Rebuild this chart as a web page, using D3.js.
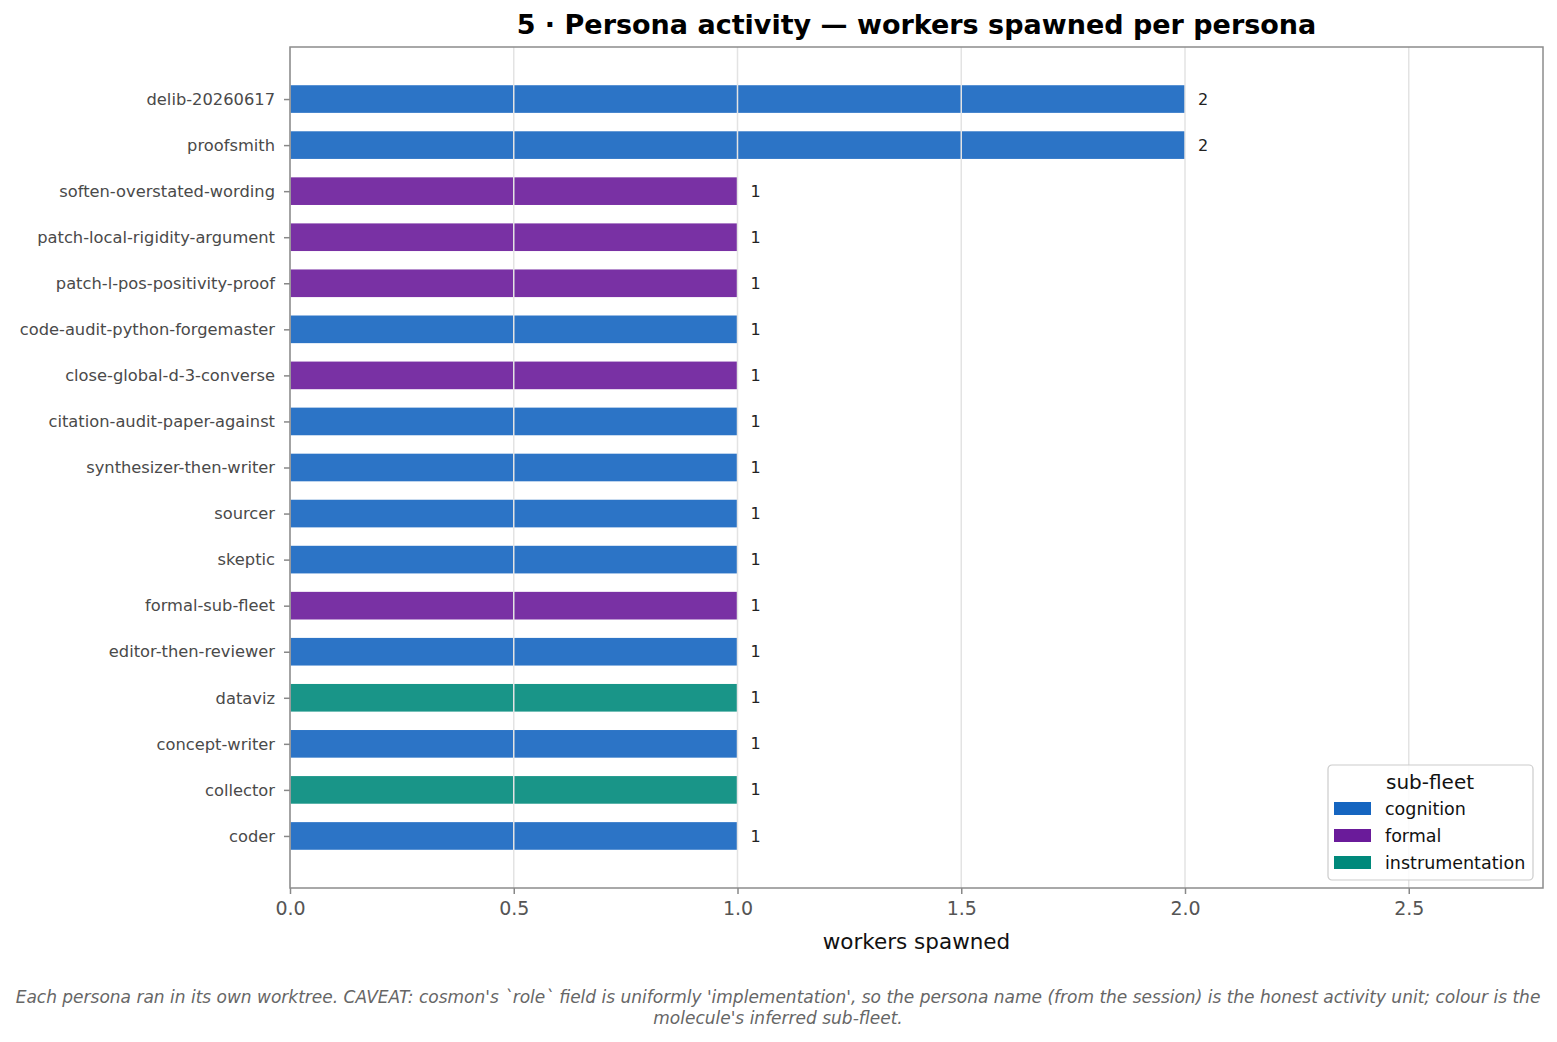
<!DOCTYPE html>
<html><head><meta charset="utf-8">
<script src="https://cdn.jsdelivr.net/npm/d3@7"></script>
<style>body{margin:0;background:#fff;font-family:"DejaVu Sans",sans-serif;}</style>
</head><body><svg id="c" width="1557" height="1042"></svg>
<script>
const personas = ["delib-20260617","proofsmith","soften-overstated-wording","patch-local-rigidity-argument","patch-l-pos-positivity-proof","code-audit-python-forgemaster","close-global-d-3-converse","citation-audit-paper-against","synthesizer-then-writer","sourcer","skeptic","formal-sub-fleet","editor-then-reviewer","dataviz","concept-writer","collector","coder"];
const workers = [2,2,1,1,1,1,1,1,1,1,1,1,1,1,1,1,1];
const subfleet = ["cognition","cognition","formal","formal","formal","cognition","formal","cognition","cognition","cognition","cognition","formal","cognition","instrumentation","cognition","instrumentation","cognition"];
const fleets = ["cognition","formal","instrumentation"];
const fleetColors = ["#1565c0","#6a1b9a","#00897b"];
const xTicks = [0,0.5,1.0,1.5,2.0,2.5];

const svg = d3.select("#c").attr("font-family","DejaVu Sans");
const L=290,R=1543,T=47,B=888;
const x = d3.scaleLinear().domain([0,2.8]).range([L,R]);
const y = d3.scaleLinear().domain([-1.13,16+1.13]).range([T,B]);
const color = d3.scaleOrdinal().domain(fleets).range(fleetColors);
const bh = 0.6*(y(1)-y(0));

svg.append("g").selectAll("rect").data(personas).join("rect")
  .attr("x",x(0)).attr("y",(d,i)=>y(i)-bh/2).attr("width",(d,i)=>x(workers[i])-x(0)).attr("height",bh)
  .attr("fill",(d,i)=>color(subfleet[i])).attr("fill-opacity",0.9);

// grid on top
svg.append("g").selectAll("line").data(xTicks).join("line")
  .attr("x1",d=>x(d)).attr("x2",d=>x(d)).attr("y1",T).attr("y2",B)
  .attr("stroke","#e3e3e3").attr("stroke-width",1.5);

svg.append("g").selectAll("text").data(personas).join("text")
  .attr("x",(d,i)=>x(workers[i])+13).attr("y",(d,i)=>y(i)).attr("dy","0.35em")
  .attr("font-size",16).attr("fill","#222").text((d,i)=>workers[i]);

const xa = svg.append("g").attr("transform",`translate(0,${B})`)
  .call(d3.axisBottom(x).tickValues(xTicks).tickFormat(d3.format(".1f")).tickSize(6).tickSizeOuter(0));
xa.select(".domain").remove();
xa.selectAll("line").attr("stroke","#888").attr("stroke-width",1.5);
xa.selectAll("text").attr("font-size",19).attr("fill","#555").attr("font-family","DejaVu Sans").attr("y",14);

const ya = svg.append("g").attr("transform",`translate(${L},0)`)
  .call(d3.axisLeft(y).tickValues(d3.range(personas.length)).tickFormat(i=>personas[i]).tickSize(6).tickSizeOuter(0));
ya.select(".domain").remove();
ya.selectAll("line").attr("stroke","#888").attr("stroke-width",1.5);
ya.selectAll("text").attr("font-size",16.3).attr("fill","#4a4a4a").attr("font-family","DejaVu Sans").attr("x",-15);

svg.append("rect").attr("x",L).attr("y",T).attr("width",R-L).attr("height",B-T)
  .attr("fill","none").attr("stroke","#8c8c8c").attr("stroke-width",1.5);

svg.append("text").attr("x",(L+R)/2).attr("y",34).attr("text-anchor","middle")
  .attr("font-size",27).attr("font-weight","bold").attr("fill","#000")
  .text("5 · Persona activity — workers spawned per persona");
svg.append("text").attr("x",(L+R)/2).attr("y",949).attr("text-anchor","middle")
  .attr("font-size",21.5).attr("fill","#111").text("workers spawned");

const cap = svg.append("g").attr("font-size",17).attr("font-style","italic").attr("fill","#666").attr("text-anchor","middle");
cap.append("text").attr("x",778).attr("y",1003).text("Each persona ran in its own worktree. CAVEAT: cosmon's `role` field is uniformly 'implementation', so the persona name (from the session) is the honest activity unit; colour is the");
cap.append("text").attr("x",778).attr("y",1024).text("molecule's inferred sub-fleet.");

const lg = svg.append("g").attr("transform","translate(1328,765)");
lg.append("rect").attr("width",205).attr("height",115).attr("rx",4).attr("fill","#fff").attr("fill-opacity",0.85).attr("stroke","#ccc").attr("stroke-width",1.2);
lg.append("text").attr("x",102).attr("y",24).attr("text-anchor","middle").attr("font-size",20).attr("fill","#111").text("sub-fleet");
fleets.forEach((f,i)=>{
  lg.append("rect").attr("x",6).attr("y",37+i*27).attr("width",37).attr("height",13).attr("fill",color(f));
  lg.append("text").attr("x",57).attr("y",44+i*27).attr("dy","0.35em").attr("font-size",17.5).attr("fill","#111").text(f);
});
</script></body></html>
